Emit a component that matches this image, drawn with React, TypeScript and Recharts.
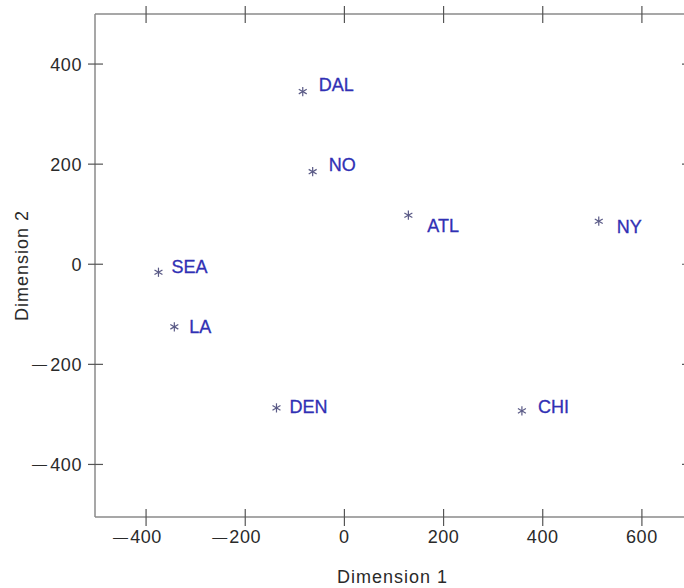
import { ScatterChart, Scatter, XAxis, YAxis } from "recharts";

// MDS configuration of eight US cities
const cities = ["DAL", "NO", "ATL", "NY", "SEA", "LA", "DEN", "CHI"];
const dim1 = [-84, -64, 129, 513, -375, -343, -137, 358];
const dim2 = [345, 185, 98, 86, -16, -125, -287, -293];

const xTicks = [-400, -200, 0, 200, 400, 600];
const yTicks = [-400, -200, 0, 200, 400];

// where each city label sits relative to its marker
const LABEL_OFFSETS: Record<string, [number, number]> = {
  DAL: [16, -7],
  NO: [16, -7],
  ATL: [19, 10],
  NY: [18, 5],
  SEA: [13, -6],
  LA: [15, 0],
  DEN: [13, -1],
  CHI: [16, -4],
};

const FONT = '"Liberation Sans", Arial, Helvetica, sans-serif';
const AXIS_COLOR = "#8a8a8a";
const TICK_COLOR = "#555";
const TEXT_COLOR = "#2a2a2a";
const LABEL_COLOR = "#3030b4";
const MARKER_COLOR = "#5a5a86";

const data = cities.map((c, i) => ({ city: c, x: dim1[i], y: dim2[i] }));

function Asterisk(props: any) {
  const { cx, cy, payload } = props;
  const r = 4.6;
  const dx = r * Math.cos(Math.PI / 6);
  const dy = r * Math.sin(Math.PI / 6);
  const [lx, ly] = LABEL_OFFSETS[payload.city] ?? [14, 0];
  return (
    <g>
      <g stroke={MARKER_COLOR} strokeWidth={1.2}>
        <line x1={cx} y1={cy - r} x2={cx} y2={cy + r} />
        <line x1={cx - dx} y1={cy - dy} x2={cx + dx} y2={cy + dy} />
        <line x1={cx - dx} y1={cy + dy} x2={cx + dx} y2={cy - dy} />
      </g>
      <text
        x={cx + lx}
        y={cy + ly}
        dy="0.36em"
        fill={LABEL_COLOR}
        fontSize={18}
        fontFamily={FONT}
        stroke={LABEL_COLOR}
        strokeWidth={0.3}
      >
        {payload.city}
      </text>
    </g>
  );
}

// minus sign drawn as a short dash, like the original's
function Minus({ x, y }: { x: number; y: number }) {
  return (
    <text x={x} y={y} dy="0.3em" textAnchor="end" fill={TEXT_COLOR} fontSize={15} fontFamily={FONT}>
      {"\u2014"}
    </text>
  );
}

function BottomTick(props: any) {
  const { x, y, payload } = props;
  const v = payload.value as number;
  return (
    <g>
      <line x1={x} y1={y - 8} x2={x} y2={y + 9} stroke={TICK_COLOR} strokeWidth={1.2} />
      <text x={x} y={y + 20} dy="0.36em" textAnchor="middle" fill={TEXT_COLOR} fontSize={18} fontFamily={FONT} letterSpacing={0.6}>
        {Math.abs(v)}
      </text>
      {v < 0 && <Minus x={x - 18} y={y + 20} />}
    </g>
  );
}

function TopTick(props: any) {
  const { x, y } = props;
  return <line x1={x} y1={y - 8} x2={x} y2={y + 9} stroke={TICK_COLOR} strokeWidth={1.2} />;
}

function LeftTick(props: any) {
  const { x, y, payload } = props;
  const v = payload.value as number;
  return (
    <g>
      <line x1={x - 7} x2={x + 8} y1={y} y2={y} stroke={TICK_COLOR} strokeWidth={1.2} />
      <text x={x - 13} y={y} dy="0.36em" textAnchor="end" fill={TEXT_COLOR} fontSize={18} fontFamily={FONT} letterSpacing={0.6}>
        {Math.abs(v)}
      </text>
      {v < 0 && <Minus x={x - 48} y={y} />}
    </g>
  );
}

function RightTick(props: any) {
  const { x, y } = props;
  return <line x1={x - 8} x2={x + 7} y1={y} y2={y} stroke={TICK_COLOR} strokeWidth={1.2} />;
}

export default function App() {
  return (
    <div style={{ position: "absolute", left: 0, top: 0, width: 684, height: 588, overflow: "hidden", background: "#fff" }}>
      <ScatterChart width={702} height={588} margin={{ top: 0, right: 0, bottom: 0, left: 0 }}>
        <XAxis
          xAxisId="b"
          type="number"
          dataKey="x"
          domain={[-503, 697]}
          ticks={xTicks}
          allowDataOverflow
          orientation="bottom"
          height={71}
          tickSize={0}
          tickMargin={0}
          tickLine={false}
          axisLine={{ stroke: AXIS_COLOR, strokeWidth: 1.5 }}
          tick={<BottomTick />}
          label={(p: any) => {
            const vb = p.viewBox;
            return (
              <text x={vb.x + vb.width / 2} y={583} textAnchor="middle" fill={TEXT_COLOR} fontSize={18} fontFamily={FONT} letterSpacing={1}>
                Dimension 1
              </text>
            );
          }}
        />
        <XAxis
          xAxisId="t"
          type="number"
          dataKey="x"
          domain={[-503, 697]}
          ticks={xTicks}
          allowDataOverflow
          orientation="top"
          height={14}
          tickSize={0}
          tickMargin={0}
          tickLine={false}
          axisLine={{ stroke: AXIS_COLOR, strokeWidth: 1.5 }}
          tick={<TopTick />}
        />
        <YAxis
          yAxisId="l"
          type="number"
          dataKey="y"
          domain={[-505, 500]}
          ticks={yTicks}
          allowDataOverflow
          orientation="left"
          width={95}
          tickSize={0}
          tickMargin={0}
          tickLine={false}
          axisLine={{ stroke: AXIS_COLOR, strokeWidth: 1.5 }}
          tick={<LeftTick />}
          label={(p: any) => {
            const vb = p.viewBox;
            const cy = vb.y + vb.height / 2;
            return (
              <text
                x={22}
                y={cy}
                dy="0.36em"
                textAnchor="middle"
                transform={`rotate(-90 22 ${cy})`}
                fill={TEXT_COLOR}
                fontSize={18}
                fontFamily={FONT}
                letterSpacing={1}
              >
                Dimension 2
              </text>
            );
          }}
        />
        <YAxis
          yAxisId="r"
          type="number"
          dataKey="y"
          domain={[-505, 500]}
          ticks={yTicks}
          allowDataOverflow
          orientation="right"
          width={12}
          tickSize={0}
          tickMargin={0}
          tickLine={false}
          axisLine={{ stroke: AXIS_COLOR, strokeWidth: 1.5 }}
          tick={<RightTick />}
        />
        <Scatter
          data={data}
          xAxisId="b"
          yAxisId="l"
          shape={(p: any) => <Asterisk {...p} />}
          isAnimationActive={false}
        />
      </ScatterChart>
    </div>
  );
}
